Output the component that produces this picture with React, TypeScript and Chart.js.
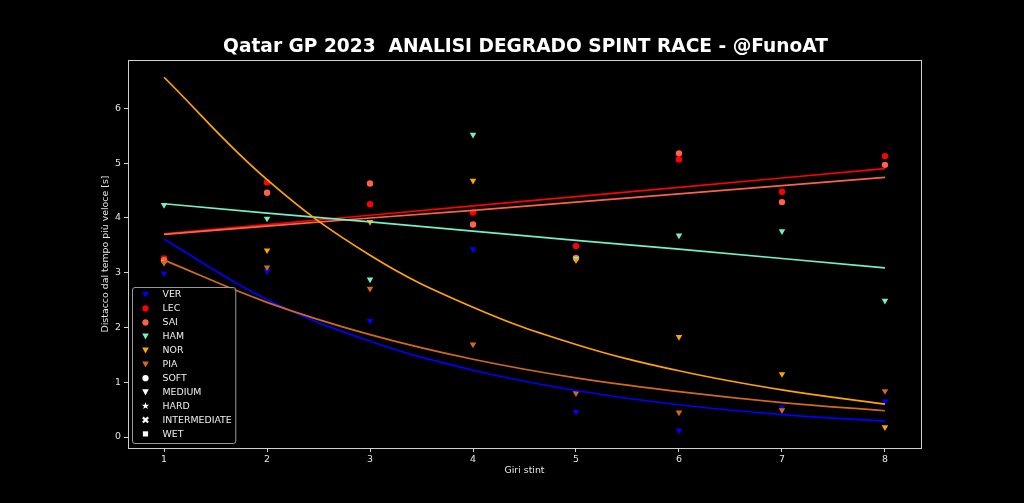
import React, { useEffect, useRef } from "react";
import { Chart, registerables } from "chart.js";

Chart.register(...registerables);

// ---- data ----
const laps = [1, 2, 3, 4, 5, 6, 7, 8];
const xTickValues = [1, 2, 3, 4, 5, 6, 7, 8];
const yTickValues = [0, 1, 2, 3, 4, 5, 6];

const drivers = ["VER", "LEC", "SAI", "HAM", "NOR", "PIA"];

// gap to fastest lap [s] per stint lap
const verGaps = [2.99, 3.03, 2.12, 3.43, 0.46, 0.12, 0.54, 0.65];
const lecGaps = [3.26, 4.65, 4.25, 4.1, 3.49, 5.07, 4.48, 5.13];
const saiGaps = [3.23, 4.46, 4.63, 3.88, 3.27, 5.18, 4.29, 4.97];
const hamGaps = [4.24, 3.99, 2.88, 5.52, 3.26, 3.68, 3.76, 2.49];
const norGaps = [3.2, 3.41, 3.93, 4.68, 3.23, 1.83, 1.15, 0.18];
const piaGaps = [3.18, 3.1, 2.71, 1.69, 0.8, 0.45, 0.49, 0.84];

// trend curves at each lap
const verTrend = [3.61, 2.51, 1.75, 1.22, 0.85, 0.59, 0.41, 0.29];
const lecTrend = [3.71, 3.88, 4.05, 4.22, 4.39, 4.56, 4.73, 4.9];
const saiTrend = [3.7, 3.85, 4.0, 4.14, 4.29, 4.44, 4.59, 4.74];
const hamTrend = [4.26, 4.09, 3.93, 3.76, 3.59, 3.43, 3.26, 3.09];
const norTrend = [6.57, 4.7, 3.32, 2.37, 1.69, 1.21, 0.86, 0.6];
const piaTrend = [3.23, 2.46, 1.87, 1.42, 1.08, 0.83, 0.63, 0.48];

const gapSeries = [verGaps, lecGaps, saiGaps, hamGaps, norGaps, piaGaps];
const trendSeries = [verTrend, lecTrend, saiTrend, hamTrend, norTrend, piaTrend];
const curvedTrend = [true, false, false, false, true, true];

const driverColors = ["#0000ff", "#ff0000", "#ff6347", "#74f0c8", "#ffa500", "#d2691e"];
const driverMarkers = ["tri", "circle", "circle", "tri", "tri", "tri"];

const compoundLabels = ["SOFT", "MEDIUM", "HARD", "INTERMEDIATE", "WET"];
const compoundMarkers = ["circle", "tri", "star", "x", "square"];

const titleText = "Qatar GP 2023  ANALISI DEGRADO SPINT RACE - @FunoAT";
const xTitle = "Giri stint";
const yTitle = "Distacco dal tempo più veloce [s]";

const FONT = "'DejaVu Sans', sans-serif";
const FONT_SIZE = 9.4;

function drawMarker(ctx: CanvasRenderingContext2D, kind: string, x: number, y: number, color: string) {
  ctx.save();
  ctx.fillStyle = color;
  ctx.strokeStyle = color;
  ctx.beginPath();
  if (kind === "circle") {
    ctx.arc(x, y, 3.1, 0, Math.PI * 2);
    ctx.fill();
  } else if (kind === "tri") {
    ctx.moveTo(x - 3.3, y - 2.8);
    ctx.lineTo(x + 3.3, y - 2.8);
    ctx.lineTo(x, y + 3.3);
    ctx.closePath();
    ctx.fill();
  } else if (kind === "star") {
    for (let i = 0; i < 10; i++) {
      const r = i % 2 === 0 ? 3.8 : 1.6;
      const a = -Math.PI / 2 + (i * Math.PI) / 5;
      const px = x + r * Math.cos(a);
      const py = y + r * Math.sin(a);
      if (i === 0) ctx.moveTo(px, py);
      else ctx.lineTo(px, py);
    }
    ctx.closePath();
    ctx.fill();
  } else if (kind === "x") {
    ctx.lineWidth = 2.2;
    ctx.moveTo(x - 2.6, y - 2.6);
    ctx.lineTo(x + 2.6, y + 2.6);
    ctx.moveTo(x + 2.6, y - 2.6);
    ctx.lineTo(x - 2.6, y + 2.6);
    ctx.stroke();
  } else if (kind === "square") {
    ctx.fillRect(x - 2.6, y - 2.6, 5.2, 5.2);
  }
  ctx.restore();
}

const decorPlugin = {
  id: "decor",
  afterDraw(chart: any) {
    const ctx: CanvasRenderingContext2D = chart.ctx;
    const a = chart.chartArea;
    ctx.save();
    // frame (all four spines)
    ctx.strokeStyle = "#d0d0d0";
    ctx.lineWidth = 1;
    ctx.strokeRect(Math.round(a.left) + 0.5, Math.round(a.top) + 0.5, Math.round(a.right - a.left), Math.round(a.bottom - a.top));

    // title
    ctx.fillStyle = "#ffffff";
    ctx.font = `bold 18.6px ${FONT}`;
    ctx.textAlign = "center";
    ctx.textBaseline = "middle";
    ctx.fillText(titleText, (a.left + a.right) / 2 + 1, 47);

    // axis titles
    ctx.fillStyle = "#e6e6e6";
    ctx.font = `${FONT_SIZE}px ${FONT}`;
    ctx.fillText(xTitle, (a.left + a.right) / 2, 471);
    ctx.save();
    ctx.translate(106, (a.top + a.bottom) / 2);
    ctx.rotate(-Math.PI / 2);
    ctx.fillText(yTitle, 0, 0);
    ctx.restore();

    // legend
    const labels = [...drivers, ...compoundLabels];
    const markers = [...driverMarkers, ...compoundMarkers];
    const colors = [...driverColors, ...compoundLabels.map(() => "#ffffff")];
    ctx.font = `${FONT_SIZE}px ${FONT}`;
    let maxW = 0;
    labels.forEach((l) => (maxW = Math.max(maxW, ctx.measureText(l).width)));
    const step = 13.94;
    const boxL = a.left + 4.5;
    const boxH = 156;
    const boxB = a.bottom - 4.5;
    const boxT = boxB - boxH;
    const textX = boxL + 30;
    const boxW = textX + maxW + 4 - boxL;
    ctx.fillStyle = "rgba(0,0,0,0.8)";
    ctx.strokeStyle = "#9a9a9a";
    ctx.lineWidth = 1;
    ctx.beginPath();
    (ctx as any).roundRect(boxL, boxT, boxW, boxH, 2.5);
    ctx.fill();
    ctx.stroke();
    labels.forEach((l, i) => {
      const y = boxT + 7 + i * step;
      drawMarker(ctx, markers[i], boxL + 13, y, colors[i]);
      ctx.fillStyle = "#eeeeee";
      ctx.textAlign = "left";
      ctx.textBaseline = "middle";
      ctx.fillText(l, textX, y + 0.5);
    });
    ctx.restore();
  },
};

export default function App() {
  const canvasRef = useRef<HTMLCanvasElement | null>(null);

  useEffect(() => {
    document.body.style.margin = "0";
    document.body.style.background = "#000";
    const canvas = canvasRef.current;
    if (!canvas) return;

    const datasets: any[] = [];
    drivers.forEach((d, i) => {
      const isTri = driverMarkers[i] === "tri";
      datasets.push({
        label: d,
        data: laps.map((x, k) => ({ x, y: gapSeries[i][k] })),
        showLine: false,
        pointStyle: isTri ? "triangle" : "circle",
        rotation: isTri ? 180 : 0,
        pointRadius: isTri ? 3.8 : 3.2,
        pointBackgroundColor: driverColors[i],
        pointBorderColor: driverColors[i],
        pointBorderWidth: 0,
        order: 20 - i,
      });
      datasets.push({
        label: d + " trend",
        data: laps.map((x, k) => ({ x, y: trendSeries[i][k] })),
        showLine: true,
        borderColor: driverColors[i],
        borderWidth: 1.7,
        pointRadius: 0,
        fill: false,
        cubicInterpolationMode: "default",
        tension: curvedTrend[i] ? 0.4 : 0,
        order: 10 - i,
      });
    });

    const tickFont = { family: FONT, size: FONT_SIZE };

    const chart = new Chart(canvas, {
      type: "scatter",
      data: { datasets },
      options: {
        animation: false,
        responsive: false,
        events: [],
        layout: { padding: { top: 60, right: 103, left: 0, bottom: 0 } },
        plugins: {
          legend: { display: false },
          tooltip: { enabled: false },
          title: { display: false },
        },
        scales: {
          x: {
            type: "linear",
            min: 0.65,
            max: 8.35,
            afterBuildTicks: (scale: any) => {
              scale.ticks = xTickValues.map((v) => ({ value: v }));
            },
            afterFit: (scale: any) => {
              scale.height = 55;
            },
            ticks: { color: "#e6e6e6", font: tickFont, padding: 2, maxRotation: 0 },
            grid: { drawOnChartArea: false, drawTicks: true, tickLength: 4, color: "#d0d0d0" },
            border: { display: true, color: "#d0d0d0" },
          },
          y: {
            type: "linear",
            min: -0.2,
            max: 6.885,
            afterBuildTicks: (scale: any) => {
              scale.ticks = yTickValues.map((v) => ({ value: v }));
            },
            afterFit: (scale: any) => {
              scale.width = 128;
            },
            ticks: { color: "#e6e6e6", font: tickFont, padding: 3 },
            grid: { drawOnChartArea: false, drawTicks: true, tickLength: 4, color: "#d0d0d0" },
            border: { display: true, color: "#d0d0d0" },
          },
        },
      },
      plugins: [decorPlugin],
    });

    return () => chart.destroy();
  }, []);

  return (
    <div style={{ width: 1024, height: 503, background: "#000" }}>
      <canvas ref={canvasRef} width={1024} height={503} style={{ display: "block" }} />
    </div>
  );
}
